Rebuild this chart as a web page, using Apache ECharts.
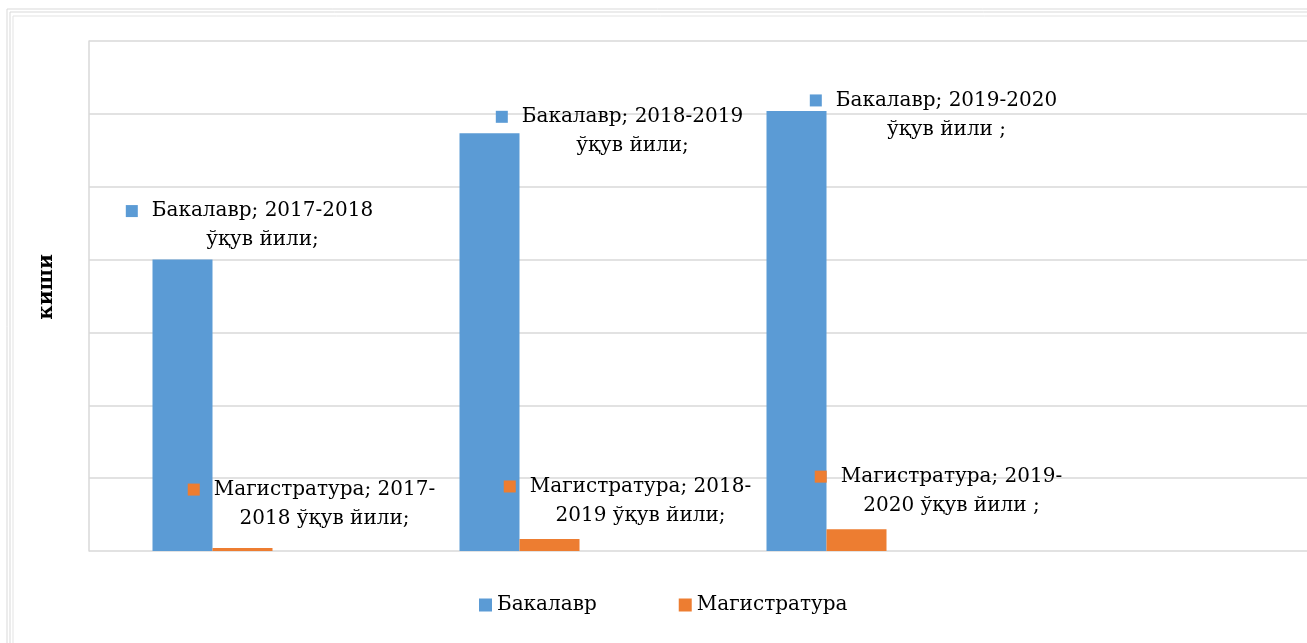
<!DOCTYPE html>
<html>
<head>
<meta charset="utf-8">
<script src="https://cdn.jsdelivr.net/npm/echarts@6/dist/echarts.min.js"></script>
<style>
  html, body { margin: 0; padding: 0; background: #fff; }
  #chart { width: 1307px; height: 643px; }
</style>
</head>
<body>
<div id="chart"></div>
<script>
  // данные
  const years = ['2017-2018', '2018-2019', '2019-2020'];
  const bakalavr = [4000, 5733, 6040];
  const magistratura = [40, 165, 300];
  const yMax = 7000;
  const yStep = 1000;

  const bakalavrLabels = [
    'Бакалавр; 2017-2018\nўқув йили;',
    'Бакалавр; 2018-2019\nўқув йили;',
    'Бакалавр; 2019-2020\nўқув йили ;'
  ];
  const magistrLabels = [
    'Магистратура; 2017-\n2018 ўқув йили;',
    'Магистратура; 2018-\n2019 ўқув йили;',
    'Магистратура; 2019-\n2020 ўқув йили ;'
  ];

  const font = '"DejaVu Serif", "Liberation Serif", serif';

  // подпись с цветным квадратиком
  function richLabel(text) {
    let lines = text.split('\n');
    return '{sq|}{sp|}{t|' + lines[0] + '}\n{pad|}{t|' + lines[1] + '}';
  }
  function richStyle(color) {
    return {
      sq: { width: 12, height: 12, backgroundColor: color },
      sp: { width: 14 },
      pad: { width: 26 },
      t: { fontFamily: font, fontSize: 20, color: '#000', lineHeight: 29 }
    };
  }

  const bOffsets = [[67, 0], [130, 32], [137, 38]];
  const mOffsets = [[69, -10], [78, -4], [82, -4]];

  let chart = echarts.init(document.getElementById('chart'));

  chart.setOption({
    animation: false,
    textStyle: { fontFamily: font },
    color: ['#5b9bd5', '#ed7d31'],
    graphic: [
      { type: 'rect', shape: { x: 7, y: 9, width: 1400, height: 700 }, style: { fill: 'none', stroke: '#d9d9d9', lineWidth: 1 } },
      { type: 'rect', shape: { x: 10, y: 12, width: 1400, height: 700 }, style: { fill: 'none', stroke: '#d9d9d9', lineWidth: 1 } },
      { type: 'rect', shape: { x: 13, y: 16, width: 1400, height: 700 }, style: { fill: 'none', stroke: '#e3e3e3', lineWidth: 1 } },
      {
        type: 'text', x: 47, y: 287, rotation: Math.PI / 2,
        style: { text: 'киши', font: 'bold 20px ' + font, fill: '#000', align: 'center', verticalAlign: 'middle' }
      }
    ],
    legend: {
      left: 474, top: 590,
      itemWidth: 13, itemHeight: 13, itemGap: 82,
      icon: 'rect',
      textStyle: { fontFamily: font, fontSize: 20, color: '#000' },
      data: ['Бакалавр', 'Магистратура']
    },
    grid: [
      { left: 89, right: 0, top: 41, bottom: 92 },
      { left: 59, right: 327, top: 41, bottom: 92 }
    ],
    xAxis: [
      { gridIndex: 0, type: 'value', min: 0, max: 1, show: false },
      { gridIndex: 1, type: 'category', data: years, show: false }
    ],
    yAxis: [
      {
        gridIndex: 0, type: 'value', min: 0, max: yMax, interval: yStep,
        axisLabel: { show: false }, axisTick: { show: false },
        axisLine: { show: true, lineStyle: { color: '#d9d9d9', width: 1.5 } },
        splitLine: { lineStyle: { color: '#d9d9d9', width: 1.5 } }
      },
      { gridIndex: 1, type: 'value', min: 0, max: yMax, interval: yStep, show: false, splitLine: { show: false } }
    ],
    series: [
      {
        name: 'Бакалавр', type: 'bar', xAxisIndex: 1, yAxisIndex: 1,
        barWidth: 60, barGap: '0%',
        data: bakalavr.map((v, i) => ({
          value: v,
          label: {
            show: true, position: 'top', offset: bOffsets[i],
            formatter: richLabel(bakalavrLabels[i]), rich: richStyle('#5b9bd5')
          }
        }))
      },
      {
        name: 'Магистратура', type: 'bar', xAxisIndex: 1, yAxisIndex: 1,
        barWidth: 60, barGap: '0%',
        data: magistratura.map((v, i) => ({
          value: v,
          label: {
            show: true, position: 'top', offset: mOffsets[i],
            formatter: richLabel(magistrLabels[i]), rich: richStyle('#ed7d31')
          }
        }))
      }
    ]
  });
</script>
</body>
</html>
